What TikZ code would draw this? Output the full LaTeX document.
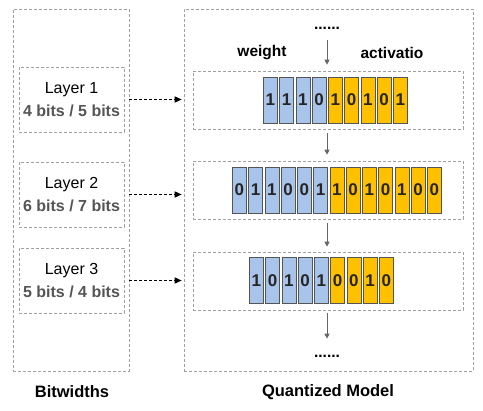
\documentclass[tikz,border=0pt]{standalone}
\usepackage{fontspec}
\setmainfont{Liberation Sans}
\usetikzlibrary{arrows.meta}
\definecolor{cellblue}{HTML}{A9C4EB}
\definecolor{cellyel}{HTML}{FFC000}
\definecolor{dashgray}{HTML}{A0A0A0}
\definecolor{bitgray}{HTML}{555555}
\definecolor{arrgray}{HTML}{666666}
\begin{document}
\begin{tikzpicture}[x=1pt,y=-1pt,
  frame/.style={draw=dashgray, dash pattern=on 3pt off 2pt, line width=0.6pt, inner sep=0pt},
  layerbox/.style={frame, minimum width=105pt, minimum height=65pt, align=center,
    font=\fontsize{16}{23}\selectfont},
  rowbox/.style={frame, minimum width=270pt, minimum height=58pt},
  cellbox/.style={draw=bitgray, line width=0.6pt, minimum width=14pt, minimum height=46pt,
    inner sep=0pt, font=\bfseries\fontsize{17}{19}\selectfont, text=black!85},
  dotarrow/.style={draw=black, line width=1.5pt, dash pattern=on 3pt off 2pt,
    -{Triangle[length=7pt,width=6pt]}},
  grayarrow/.style={draw=arrgray, line width=1pt, -{Triangle[length=5pt,width=5pt]}},
  lbl/.style={font=\bfseries\fontsize{15.5}{18}\selectfont, inner sep=0pt},
  title/.style={font=\bfseries\fontsize{16.5}{19}\selectfont, inner sep=0pt}]
\useasboundingbox (0,0) rectangle (483,411);
\fill[white] (0,0) rectangle (483,411);
% outer frames
\node[frame, minimum width=116pt, minimum height=362pt] (bw) at (71,190) {};
\node[frame, minimum width=289pt, minimum height=362pt] (qm) at (328.5,190) {};
% layer boxes
\node[layerbox] (L1) at (71.5,99.5) {Layer 1\\{\bfseries\color{bitgray}4 bits / 5 bits}};
\node[layerbox] (L2) at (71.5,194.5) {Layer 2\\{\bfseries\color{bitgray}6 bits / 7 bits}};
\node[layerbox] (L3) at (71.5,280.5) {Layer 3\\{\bfseries\color{bitgray}5 bits / 4 bits}};
% row boxes
\node[rowbox] (R1) at (328,100) {};
\node[rowbox] (R2) at (328,190) {};
\node[rowbox] (R3) at (328,281) {};
% cells
\foreach \b/\c [count=\i from 0] in {1/cellblue,1/cellblue,1/cellblue,0/cellblue,1/cellyel,0/cellyel,1/cellyel,0/cellyel,1/cellyel}
  \node[cellbox, fill=\c] (ra\i) at (270.45+16.25*\i,100) {\b};
\foreach \b/\c [count=\i from 0] in {0/cellblue,1/cellblue,1/cellblue,0/cellblue,0/cellblue,1/cellblue,1/cellyel,0/cellyel,1/cellyel,0/cellyel,1/cellyel,0/cellyel,0/cellyel}
  \node[cellbox, fill=\c] (rb\i) at (239.45+16.25*\i,190) {\b};
\foreach \b/\c [count=\i from 0] in {1/cellblue,0/cellblue,1/cellblue,0/cellblue,1/cellblue,0/cellyel,0/cellyel,1/cellyel,0/cellyel}
  \node[cellbox, fill=\c] (rc\i) at (256.45+16.25*\i,280.5) {\b};
% labels
\node[lbl] (topdots) at (327,28) {......};
\node[lbl] (botdots) at (327,356) {......};
\node[lbl] (wt) at (262,53) {weight};
\node[lbl] (act) at (392,53) {activatio};
\node[title] (t1) at (72,392) {Bitwidths};
\node[title] (t2) at (328,392) {Quantized Model};
% dotted arrows
\draw[dotarrow] (L1.center -| bw.east) -- ([xshift=-2pt]L1.center -| qm.west);
\draw[dotarrow] (L2.center -| bw.east) -- ([xshift=-2pt]L2.center -| qm.west);
\draw[dotarrow] (L3.center -| bw.east) -- ([xshift=-2pt]L3.center -| qm.west);
% gray arrows
\draw[grayarrow, shorten <=11pt, shorten >=6pt] (topdots.south) -- (R1.north -| topdots);
\draw[grayarrow, shorten <=4pt, shorten >=6pt] (R1.south -| topdots) -- (R2.north -| topdots);
\draw[grayarrow, shorten <=4pt, shorten >=5pt] (R2.south -| topdots) -- (R3.north -| topdots);
\draw[grayarrow, shorten <=3pt, shorten >=16pt] (R3.south -| topdots) -- (botdots.north);
\end{tikzpicture}
\end{document}
